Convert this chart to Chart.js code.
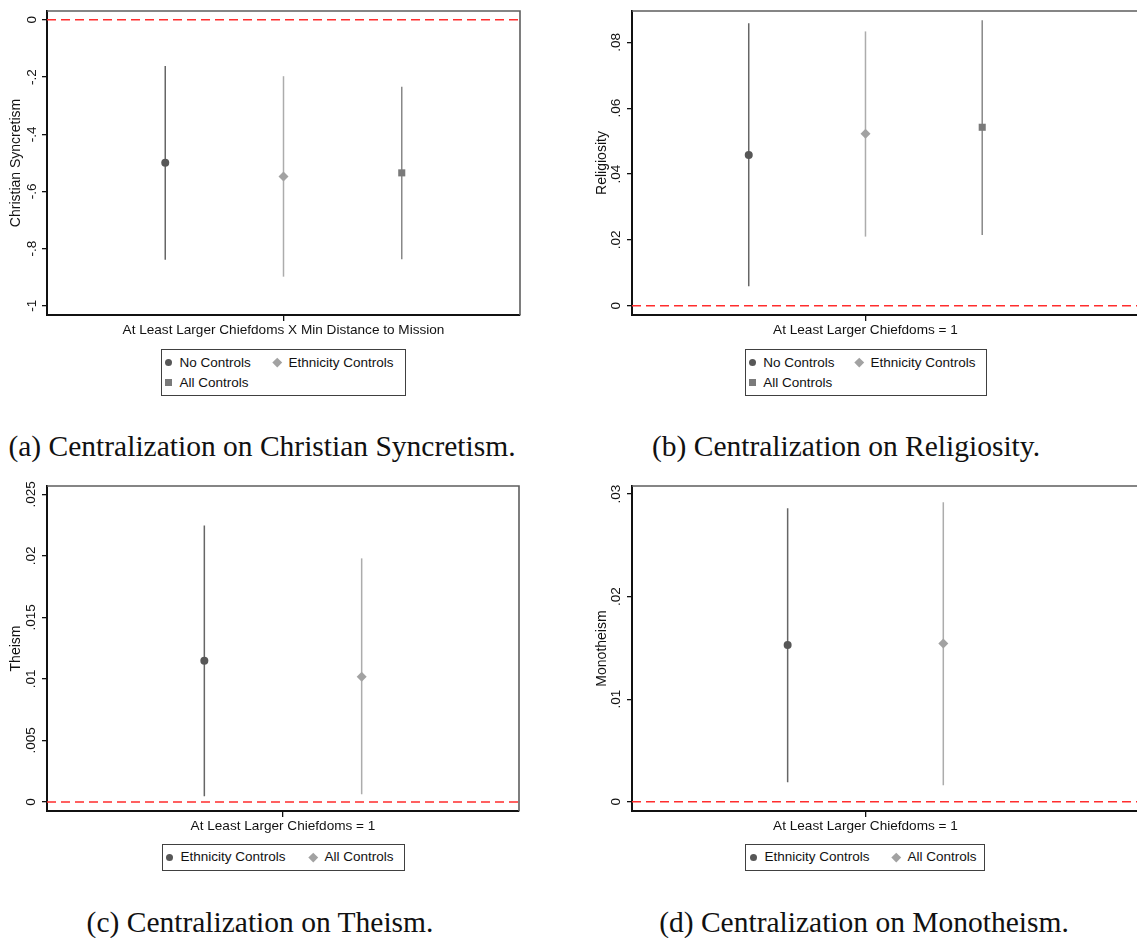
<!DOCTYPE html>
<html>
<head>
<meta charset="utf-8">
<title>Centralization coefficient plots</title>
<script src="https://cdn.jsdelivr.net/npm/chart.js@4.4.1/dist/chart.umd.min.js"></script>
<style>
  html, body { margin: 0; padding: 0; background: #fff; }
  body { width: 1137px; height: 938px; position: relative; overflow: hidden; }
  canvas { position: absolute; }
  .legend { position: absolute; box-sizing: border-box; border: 1.5px solid #404040; background: #fff;
            font: 13.5px 'Liberation Sans', Arial, sans-serif; color: #111; }
  .legend .txt { position: absolute; white-space: nowrap; line-height: 16px; }
  .legend .mk { position: absolute; }
  .caption { position: absolute; font: 29.5px 'Liberation Serif', 'Times New Roman', serif; line-height: 1;
             color: #111; white-space: nowrap; transform: translateX(-50%); }
</style>
</head>
<body>
<canvas id="chartA" width="560" height="345" style="left:0;top:0"></canvas>
<canvas id="chartB" width="620" height="345" style="left:570px;top:0"></canvas>
<canvas id="chartC" width="560" height="365" style="left:0;top:476px"></canvas>
<canvas id="chartD" width="620" height="365" style="left:570px;top:476px"></canvas>

<div class="legend" id="legendA"></div>
<div class="legend" id="legendB"></div>
<div class="legend" id="legendC"></div>
<div class="legend" id="legendD"></div>

<div class="caption" style="left:262px;top:432px">(a) Centralization on Christian Syncretism.</div>
<div class="caption" style="left:846px;top:432px">(b) Centralization on Religiosity.</div>
<div class="caption" style="left:260px;top:908px">(c) Centralization on Theism.</div>
<div class="caption" style="left:864px;top:908px">(d) Centralization on Monotheism.</div>

<script>
// Coefficients and 95% intervals, one set of arrays per panel

// (a) Christian Syncretism
const seriesA = ['No Controls', 'Ethnicity Controls', 'All Controls'];
const coefA = [-0.500, -0.548, -0.535];
const lowA = [-0.839, -0.898, -0.837];
const highA = [-0.161, -0.197, -0.234];
const yTicksA = [0, -0.2, -0.4, -0.6, -0.8, -1];

// (b) Religiosity
const seriesB = ['No Controls', 'Ethnicity Controls', 'All Controls'];
const coefB = [0.0458, 0.0522, 0.0542];
const lowB = [0.0059, 0.0210, 0.0215];
const highB = [0.0858, 0.0833, 0.0867];
const yTicksB = [0, 0.02, 0.04, 0.06, 0.08];

// (c) Theism
const seriesC = ['Ethnicity Controls', 'All Controls'];
const coefC = [0.01147, 0.01017];
const lowC = [0.00046, 0.00063];
const highC = [0.02248, 0.0198];
const yTicksC = [0, 0.005, 0.01, 0.015, 0.02, 0.025];

// (d) Monotheism
const seriesD = ['Ethnicity Controls', 'All Controls'];
const coefD = [0.01527, 0.01542];
const lowD = [0.0019, 0.0016];
const highD = [0.0286, 0.0292];
const yTicksD = [0, 0.01, 0.02, 0.03];

const labelDistance = 'At Least Larger Chiefdoms X Min Distance to Mission';
const labelChiefdoms = 'At Least Larger Chiefdoms = 1';

Chart.defaults.font.family = "'Liberation Sans', Arial, sans-serif";
Chart.defaults.color = '#111';

// marker look by position in the series list
const markerStyles = [
    { pointStyle: 'circle', radius: 4, fill: '#575757', line: '#666666' },
    { pointStyle: 'rectRot', radius: 5, fill: '#a2a2a2', line: '#acacac' },
    { pointStyle: 'rect', radius: 5, fill: '#7a7a7a', line: '#888888' }
];

// Stata style tick labels: -.2, .08, 0
function fmtTick(v) {
    if (v === 0) return '0';
    const s = String(Math.round(v * 10000) / 10000);
    return s.replace(/^(-?)0\./, '$1.');
}

// thin gray top and right edges of the plot region
const frameTopRight = {
    id: 'frameTopRight',
    afterDraw(chart) {
        const { ctx, chartArea: { left, top, right, bottom } } = chart;
        ctx.save();
        ctx.strokeStyle = '#5e5e5e';
        ctx.lineWidth = 1.6;
        ctx.beginPath();
        ctx.moveTo(left, top);
        ctx.lineTo(right, top);
        ctx.lineTo(right, bottom);
        ctx.stroke();
        ctx.restore();
    }
};

function drawPanel(p) {
    const datasets = [];

    // point estimates
    p.names.forEach((name, i) => {
        const st = markerStyles[i];
        datasets.push({
            label: name,
            order: 0,
            data: [{ x: i + 1, y: p.coef[i] }],
            pointStyle: st.pointStyle,
            pointRadius: st.radius,
            backgroundColor: st.fill,
            borderColor: st.fill,
            borderWidth: 0
        });
    });

    // confidence intervals
    p.names.forEach((name, i) => {
        datasets.push({
            label: name + ' CI',
            order: 1,
            showLine: true,
            data: [{ x: i + 1, y: p.low[i] }, { x: i + 1, y: p.high[i] }],
            borderColor: markerStyles[i].line,
            borderWidth: 1.5,
            pointRadius: 0
        });
    });

    // reference line at zero
    datasets.push({
        label: 'zero',
        order: 2,
        showLine: true,
        data: [{ x: p.xMin, y: 0 }, { x: p.xMax, y: 0 }],
        borderColor: '#ff2d2d',
        borderWidth: 1.5,
        borderDash: [9, 5],
        pointRadius: 0
    });

    const axisLine = { display: true, color: '#111', width: 2 };

    new Chart(document.getElementById(p.id), {
        type: 'scatter',
        data: { datasets },
        options: {
            responsive: false,
            animation: false,
            devicePixelRatio: 1,
            events: [],
            layout: { padding: { left: 0, right: p.padRight, top: p.padTop, bottom: 0 } },
            plugins: {
                legend: { display: false },
                tooltip: { enabled: false }
            },
            scales: {
                x: {
                    type: 'linear',
                    min: p.xMin,
                    max: p.xMax,
                    afterBuildTicks: s => { s.ticks = [{ value: p.xTick }]; },
                    afterFit: s => { s.height = p.xAxisHeight; },
                    ticks: {
                        callback: () => p.xLabel,
                        autoSkip: false,
                        minRotation: 0,
                        maxRotation: 0,
                        padding: 1.5,
                        color: '#111',
                        font: { size: 13.6 }
                    },
                    grid: { drawOnChartArea: false, drawTicks: true, tickLength: 6, color: '#111', lineWidth: 1.3 },
                    border: axisLine
                },
                y: {
                    type: 'linear',
                    min: p.yMin,
                    max: p.yMax,
                    afterBuildTicks: s => { s.ticks = p.yTicks.map(v => ({ value: v })); },
                    afterFit: s => { s.width = p.yAxisWidth; },
                    ticks: {
                        callback: v => fmtTick(v),
                        minRotation: 90,
                        maxRotation: 90,
                        crossAlign: 'center',
                        padding: p.tickPad,
                        color: '#111',
                        font: { size: 13.5 }
                    },
                    grid: { drawOnChartArea: false, drawTicks: true, tickLength: 5, color: '#111', lineWidth: 1.3 },
                    border: axisLine,
                    title: {
                        display: true,
                        text: p.yTitle,
                        color: '#111',
                        font: { size: 14 },
                        padding: { top: p.titlePad, bottom: 0 }
                    }
                }
            }
        },
        plugins: [frameTopRight]
    });
}

// boxed legend under each panel, two entries per row
function buildLegend(lg, names) {
    const el = document.getElementById(lg.id);
    Object.assign(el.style, {
        left: lg.left + 'px', top: lg.top + 'px',
        width: lg.width + 'px', height: lg.height + 'px'
    });
    names.forEach((name, i) => {
        const st = markerStyles[i];
        const cx = (i % 2 === 0) ? lg.col1 : lg.col2;
        const cy = lg.row1 + Math.floor(i / 2) * 20;

        const mk = document.createElement('div');
        mk.className = 'mk';
        let size = 7;
        if (st.pointStyle === 'circle') {
            mk.style.borderRadius = '50%';
        } else if (st.pointStyle === 'rectRot') {
            size = 6.5;
            mk.style.transform = 'rotate(45deg)';
        }
        Object.assign(mk.style, {
            width: size + 'px', height: size + 'px', background: st.fill,
            left: (cx - size / 2) + 'px', top: (cy - size / 2) + 'px'
        });
        el.appendChild(mk);

        const txt = document.createElement('div');
        txt.className = 'txt';
        txt.textContent = name;
        txt.style.left = (cx + 11) + 'px';
        txt.style.top = (cy - 8) + 'px';
        el.appendChild(txt);
    });
}

const panels = [
    {
        id: 'chartA', names: seriesA, coef: coefA, low: lowA, high: highA, yTicks: yTicksA,
        yMin: -1.032, yMax: 0.031, xMin: 0, xMax: 4, xTick: 2,
        xLabel: labelDistance, yTitle: 'Christian Syncretism',
        padTop: 11, padRight: 40, yAxisWidth: 47, xAxisHeight: 30, titlePad: 7.6, tickPad: 2,
        legend: { id: 'legendA', left: 161, top: 349, width: 245, height: 47, col1: 6.5, col2: 115.5, row1: 12.5 }
    },
    {
        id: 'chartB', names: seriesB, coef: coefB, low: lowB, high: highB, yTicks: yTicksB,
        yMin: -0.0028, yMax: 0.0895, xMin: 0, xMax: 4.6, xTick: 2,
        xLabel: labelChiefdoms, yTitle: 'Religiosity',
        padTop: 11, padRight: 21, yAxisWidth: 62, xAxisHeight: 30, titlePad: 23.6, tickPad: 0.9,
        legend: { id: 'legendB', left: 745, top: 349, width: 242, height: 47, col1: 6.2, col2: 113.5, row1: 12.5 }
    },
    {
        id: 'chartC', names: seriesC, coef: coefC, low: lowC, high: highC, yTicks: yTicksC,
        yMin: -0.00073, yMax: 0.02568, xMin: 0, xMax: 3, xTick: 1.5,
        xLabel: labelChiefdoms, yTitle: 'Theism',
        padTop: 10, padRight: 41, yAxisWidth: 47, xAxisHeight: 30, titlePad: 7.6, tickPad: -2.85,
        legend: { id: 'legendC', left: 162, top: 844, width: 243, height: 27, col1: 6.5, col2: 150.5, row1: 12 }
    },
    {
        id: 'chartD', names: seriesD, coef: coefD, low: lowD, high: highD, yTicks: yTicksD,
        yMin: -0.0009, yMax: 0.03078, xMin: 0, xMax: 3.45, xTick: 1.5,
        xLabel: labelChiefdoms, yTitle: 'Monotheism',
        padTop: 10, padRight: 21, yAxisWidth: 62, xAxisHeight: 30, titlePad: 23.9, tickPad: 0.9,
        legend: { id: 'legendD', left: 745, top: 844, width: 240, height: 27, col1: 7.5, col2: 150.5, row1: 12 }
    }
];

panels.forEach(p => {
    drawPanel(p);
    buildLegend(p.legend, p.names);
});
</script>
</body>
</html>
